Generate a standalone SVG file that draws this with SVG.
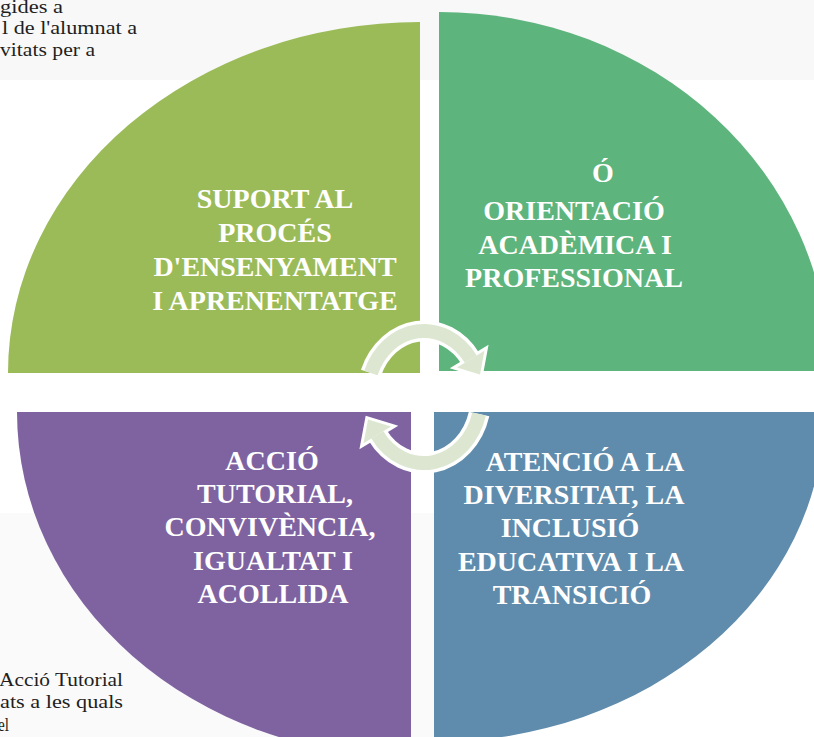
<svg xmlns="http://www.w3.org/2000/svg" width="814" height="737" viewBox="0 0 814 737">
  <style>
    .lbl { font-family: "Liberation Serif", "Times New Roman", serif; font-weight: bold; font-size: 28px; fill: #ffffff; text-anchor: middle; }
    .side { font-family: "Liberation Serif", "Times New Roman", serif; font-size: 19px; fill: #1f1f1f; }
    .band-out { fill: none; stroke: #ffffff; stroke-width: 21; }
    .band-in { fill: none; stroke: #DCE6D0; stroke-width: 14; }
    .head-out { fill: #ffffff; stroke: #ffffff; stroke-width: 6; stroke-linejoin: miter; }
    .head-in { fill: #DCE6D0; }
  </style>
  <rect width="814" height="737" fill="#ffffff"/>
  <rect x="0" y="0" width="814" height="80" fill="#f8f8f8"/>
  <rect x="0" y="513" width="434" height="224" fill="#fafafa"/>

  <g id="side-text">
    <text class="side" x="0" y="13" textLength="63" lengthAdjust="spacingAndGlyphs">gides a</text>
    <text class="side" x="2" y="34" textLength="135" lengthAdjust="spacingAndGlyphs">l de l'alumnat a</text>
    <text class="side" x="0" y="56" textLength="95" lengthAdjust="spacingAndGlyphs">vitats per a</text>
    <text class="side" x="-1" y="686" textLength="124" lengthAdjust="spacingAndGlyphs">Acció Tutorial</text>
    <text class="side" x="0" y="708" textLength="123" lengthAdjust="spacingAndGlyphs">ats a les quals</text>
    <text class="side" x="-2" y="731" textLength="11" lengthAdjust="spacingAndGlyphs">el</text>
  </g>

  <g id="node-suport">
    <path d="M420,373 L8,373 A412,351 0 0,1 420,22 Z" fill="#9BBB59"/>
    <text class="lbl" x="275" y="208">SUPORT AL</text>
    <text class="lbl" x="275" y="242">PROCÉS</text>
    <text class="lbl" x="275" y="276">D'ENSENYAMENT</text>
    <text class="lbl" x="275" y="310">I APRENENTATGE</text>
  </g>

  <g id="node-orientacio">
    <path d="M439,371 L439,12 A390,359 0 0,1 829,371 Z" fill="#5DB47C"/>
    <text class="lbl" x="603" y="182">Ó</text>
    <text class="lbl" x="574" y="220">ORIENTACIÓ</text>
    <text class="lbl" x="575" y="254">ACADÈMICA I</text>
    <text class="lbl" x="574" y="287">PROFESSIONAL</text>
  </g>

  <g id="node-atencio">
    <path d="M434,412 L824,412 A390,330 0 0,1 434,742 Z" fill="#5F8CAC"/>
    <text class="lbl" x="585" y="471">ATENCIÓ A LA</text>
    <text class="lbl" x="574" y="504">DIVERSITAT, LA</text>
    <text class="lbl" x="570" y="537">INCLUSIÓ</text>
    <text class="lbl" x="571" y="571">EDUCATIVA I LA</text>
    <text class="lbl" x="572" y="604">TRANSICIÓ</text>
  </g>

  <g id="node-accio">
    <path d="M411,412 L411,757 A394,345 0 0,1 17,412 Z" fill="#7F63A1"/>
    <text class="lbl" x="272" y="470">ACCIÓ</text>
    <text class="lbl" x="275" y="503">TUTORIAL,</text>
    <text class="lbl" x="270" y="536">CONVIVÈNCIA,</text>
    <text class="lbl" x="273" y="570">IGUALTAT I</text>
    <text class="lbl" x="273" y="603">ACOLLIDA</text>
  </g>

  <g id="connectors">
    <path class="band-out" d="M370.9,373 A57,66 0 0,1 470.7,359.1"/>
    <polygon class="head-out" points="484.4,350.8 480.0,374.5 457.0,367.4"/>
    <path class="band-out" d="M479.1,414 A57,66 0 0,1 377.3,434.9"/>
    <polygon class="head-out" points="391.0,426.6 368.0,419.5 363.6,443.2"/>
    <path class="band-in" d="M370.9,373 A57,66 0 0,1 470.7,359.1"/>
    <polygon class="head-in" points="484.4,350.8 480.0,374.5 457.0,367.4"/>
    <path class="band-in" d="M479.1,414 A57,66 0 0,1 377.3,434.9"/>
    <polygon class="head-in" points="391.0,426.6 368.0,419.5 363.6,443.2"/>
  </g>
</svg>
